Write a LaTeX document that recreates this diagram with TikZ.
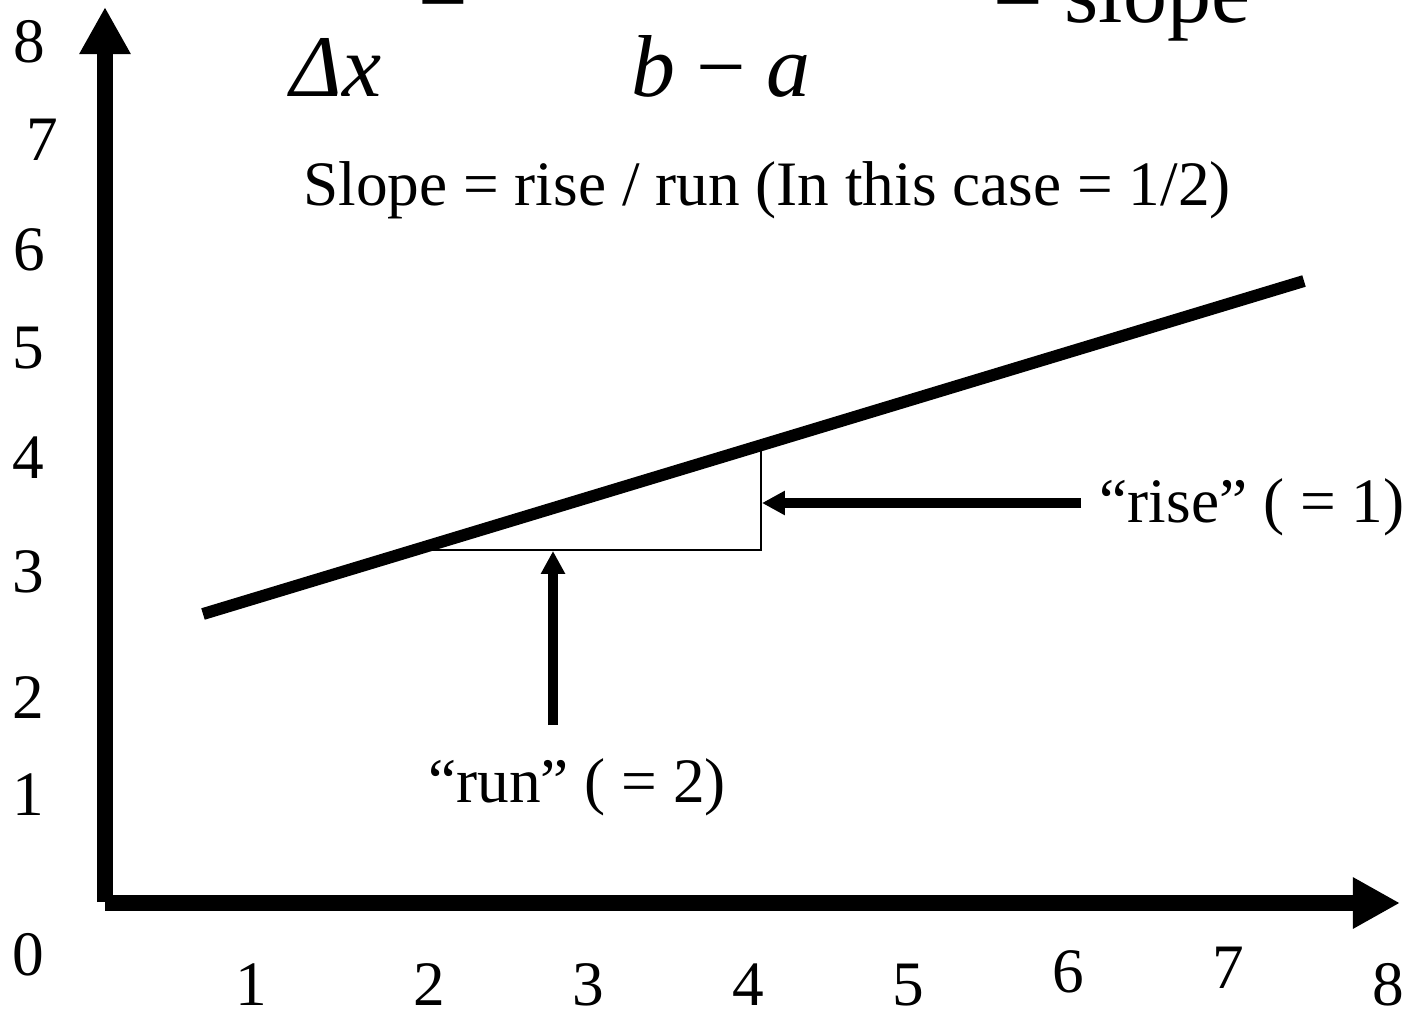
\documentclass[tikz,border=0pt]{standalone}
\usepackage{fontspec}
\setmainfont{Liberation Serif}
\usetikzlibrary{arrows.meta}
\tikzset{every node/.style={inner sep=0pt,anchor=base},
  midtext/.style={font=\fontsize{18}{22}\selectfont},
  bigtext/.style={font=\fontsize{25}{30}\selectfont},
  bigitalic/.style={font=\fontsize{25}{30}\selectfont\itshape},
  axis/.style={line width=4.55pt,-{Triangle[length=13.4pt,width=13.7pt]}},
  pointer/.style={line width=2.6pt,-{Triangle[length=6.5pt,width=6.5pt]}},
  graphline/.style={line width=3.4pt},
  guide/.style={line width=.6pt}}

\begin{document}
\begin{tikzpicture}[x=0.01cm,y=-0.01cm]
\useasboundingbox (0,0) rectangle (1412,1015);
% axes
\coordinate (ybot) at (105,902);\coordinate (ytop) at (105,7);
\coordinate (origin) at (105,903);\coordinate (xend) at (1400,903);
\draw[axis] (ybot)--(ytop);
\draw[axis] (origin)--(xend);
% tick labels
\node[midtext] (y0) at (28,975) {0};\node[midtext] (y1) at (28,815) {1};
\node[midtext] (y2) at (28,718) {2};\node[midtext] (y3) at (28,592) {3};
\node[midtext] (y4) at (28,478) {4};\node[midtext] (y5) at (28,368) {5};
\node[midtext] (y6) at (29,270) {6};\node[midtext] (y7) at (42,160) {7};
\node[midtext] (y8) at (29,62) {8};
\node[midtext] (x1) at (251,1005) {1};\node[midtext] (x2) at (429,1005) {2};
\node[midtext] (x3) at (588,1005) {3};\node[midtext] (x4) at (748,1005) {4};
\node[midtext] (x5) at (908,1005) {5};\node[midtext] (x6) at (1068,992) {6};
\node[midtext] (x7) at (1228,988) {7};\node[midtext] (x8) at (1388,1005) {8};
% formula, cut off at the top
\node[bigitalic] (dx) at (336,97) {Δx};
\node[bigitalic] (ba) at (721,97) {b\hspace{6pt}{\upshape −}\hspace{6pt}a};
\node[bigtext] (eqa) at (443,22) {=};
\node[bigtext,anchor=base east] (eqb) at (1251,22) {= slope};
\node[midtext] (slope) at (767,205) {Slope = rise / run (In this case = 1/2)};
% the line and its triangle
\coordinate (l0) at (203,614);\coordinate (l1) at (1304,281);
\draw[graphline] (l0)--(l1);
\coordinate (r0) at (432,550);\coordinate (r1) at (761,550);\coordinate (r2) at (761,450);
\draw[guide] (r0)--(r1)--(r2);
% pointers
\node[midtext] (run) at (577,802) {“run” ( = 2)};
\node[midtext] (rise) at (1252,522) {“rise” ( = 1)};
\coordinate (runtail) at (553,725);\coordinate (runtip) at (553,551);
\coordinate (risetail) at (1081,503);\coordinate (risetip) at (762,503);
\draw[pointer] (runtail)--(runtip);
\draw[pointer] (risetail)--(risetip);
\end{tikzpicture}
\end{document}
